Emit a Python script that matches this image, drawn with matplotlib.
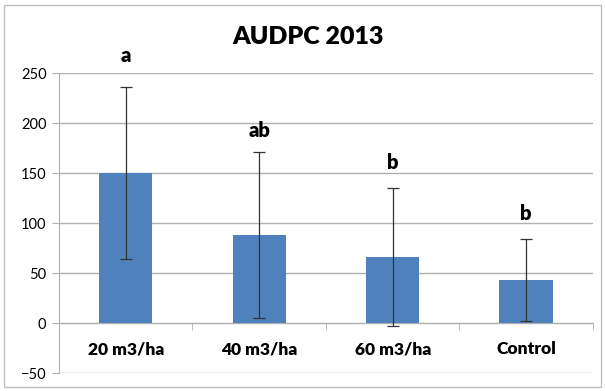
import matplotlib
matplotlib.use("Agg")
import matplotlib.pyplot as plt
from matplotlib.patches import Rectangle

categories = ["20 m3/ha", "40 m3/ha", "60 m3/ha", "Control"]
audpc = [150, 88, 66, 43]
errors = [86, 83, 69, 41]
letters = ["a", "ab", "b", "b"]
letter_y = [268, 193, 161, 110]

plt.rcParams["font.family"] = ["Lato", "DejaVu Sans"]

fig = plt.figure(figsize=(6.05, 3.91), dpi=100)
ax = fig.add_axes([0.0975, 0.046, 0.8825, 0.767])

x = range(len(categories))
ax.bar(x, audpc, width=0.4, color="#4F81BD", zorder=3)
ax.errorbar(x, audpc, yerr=errors, fmt="none", ecolor="#333333",
            elinewidth=0.9, capsize=4, capthick=0.9, zorder=4)

for i, (lab, ly) in enumerate(zip(letters, letter_y)):
    ax.text(i, ly, lab, ha="center", va="center", fontsize=14.5, fontweight="heavy")

ax.set_xlim(-0.5, len(categories) - 0.5)
ax.set_ylim(-50, 250)
ax.set_yticks(range(-50, 251, 50))
ax.yaxis.grid(True, color="#b0b0b0", linewidth=1)
ax.set_axisbelow(True)
ax.tick_params(axis="y", length=5, color="#b0b0b0", labelsize=10.5, pad=4)

ax.spines["top"].set_visible(False)
ax.spines["right"].set_visible(False)
ax.spines["left"].set_color("#b0b0b0")
ax.spines["bottom"].set_position(("data", 0))
ax.spines["bottom"].set_color("#b0b0b0")

ax.set_xticks(list(x))
ax.set_xticklabels(categories, fontsize=12.5, fontweight="heavy")
ax.set_xticks([i - 0.5 for i in range(len(categories) + 1)], minor=True)
ax.tick_params(axis="x", which="major", length=0, pad=13)
ax.tick_params(axis="x", which="minor", length=5, color="#b0b0b0")

fig.text(0.51, 0.905, "AUDPC 2013", ha="center", va="center",
         fontsize=18, fontweight="heavy")

fig.patches.append(Rectangle((0.007, 0.01), 0.986, 0.978, transform=fig.transFigure,
                             fill=False, edgecolor="#c0c0c0", linewidth=1))

fig.savefig("out.png", dpi=100)
